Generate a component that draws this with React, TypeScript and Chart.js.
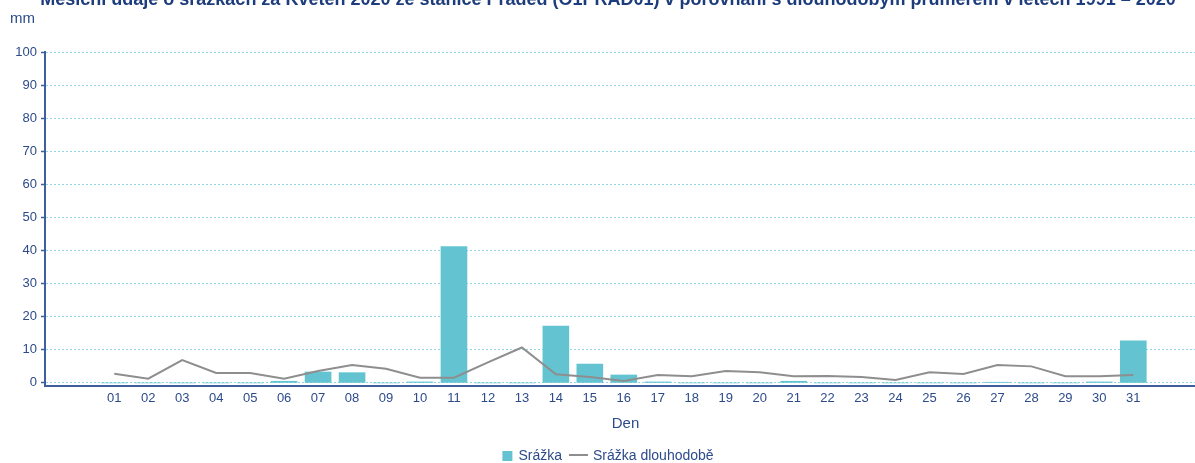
import React, { useEffect, useRef } from "react";
import { Chart, registerables } from "chart.js";

Chart.register(...registerables);

const titleText =
  "Měsíční údaje o srážkách za Květen 2020 ze stanice Praděd (O1PRAD01) v porovnání s dlouhodobým průměrem v letech 1991 – 2020";
const yUnit = "mm";
const xTitle = "Den";
const seriesNames = ["Srážka", "Srážka dlouhodobě"];

const dayLabels = [
  "01", "02", "03", "04", "05", "06", "07", "08", "09", "10",
  "11", "12", "13", "14", "15", "16", "17", "18", "19", "20",
  "21", "22", "23", "24", "25", "26", "27", "28", "29", "30", "31",
];
const dayNumbers = [
  1, 2, 3, 4, 5, 6, 7, 8, 9, 10, 11, 12, 13, 14, 15, 16, 17, 18, 19, 20, 21,
  22, 23, 24, 25, 26, 27, 28, 29, 30, 31,
];
const srazka = [
  0, 0, 0, 0, 0, 0.5, 3.3, 3.1, 0, 0.3, 41.2, 0, 0, 17.2, 5.7, 2.4, 0.3, 0, 0,
  0, 0.5, 0, 0, 0, 0, 0, 0.2, 0, 0, 0.3, 12.7,
];
const srazkaDlouhodobe = [
  2.8, 1.3, 6.9, 3.0, 3.0, 1.3, 3.6, 5.4, 4.3, 1.6, 1.6, 6.2, 10.7, 2.6, 1.8,
  0.6, 2.4, 2.0, 3.6, 3.2, 2.0, 2.1, 1.8, 0.9, 3.2, 2.7, 5.4, 5.0, 2.0, 2.0,
  2.4,
];
const yTicks = [0, 10, 20, 30, 40, 50, 60, 70, 80, 90, 100];

const FONT = '"Liberation Sans", Arial, sans-serif';
const TEXT = "#2d4b8b";
const TITLE = "#1d3c7c";
const AXIS = "#3f5e9e";
const GRID = "#93d5e4";
const BAR = "#63c3d0";
const LINE = "#8e8e8e";

const extrasPlugin = {
  id: "extras",
  afterDraw(chart: any) {
    const ctx = chart.ctx;
    ctx.save();
    ctx.fillStyle = TITLE;
    ctx.font = `bold 18px ${FONT}`;
    ctx.textAlign = "center";
    ctx.textBaseline = "alphabetic";
    ctx.fillText(titleText, 608, 5);

    ctx.fillStyle = TEXT;
    ctx.font = `15px ${FONT}`;
    ctx.textAlign = "left";
    ctx.textBaseline = "middle";
    ctx.fillText(yUnit, 10, 19);

    // legend
    ctx.font = `14px ${FONT}`;
    const w1 = ctx.measureText(seriesNames[0]).width;
    const w2 = ctx.measureText(seriesNames[1]).width;
    const total = 10 + 6 + w1 + 7 + 19 + 5 + w2;
    let x = 608 - total / 2;
    const y = 456;
    ctx.fillStyle = BAR;
    ctx.fillRect(x, y - 5, 10, 10);
    x += 16;
    ctx.fillStyle = TEXT;
    ctx.fillText(seriesNames[0], x, y);
    x += w1 + 7;
    ctx.strokeStyle = LINE;
    ctx.lineWidth = 2;
    ctx.beginPath();
    ctx.moveTo(x, y - 1);
    ctx.lineTo(x + 19, y - 1);
    ctx.stroke();
    x += 24;
    ctx.fillText(seriesNames[1], x, y);
    ctx.restore();
  },
};

export default function App() {
  const ref = useRef<HTMLCanvasElement | null>(null);

  useEffect(() => {
    if (!ref.current) return;
    const chart = new Chart(ref.current, {
      type: "bar",
      data: {
        datasets: [
          {
            type: "bar",
            label: seriesNames[0],
            data: dayNumbers.map((d, i) => ({ x: d, y: srazka[i] })),
            backgroundColor: BAR,
            barThickness: 26,
            order: 2,
          },
          {
            type: "line",
            label: seriesNames[1],
            data: dayNumbers.map((d, i) => ({ x: d, y: srazkaDlouhodobe[i] })),
            borderColor: LINE,
            borderWidth: 2,
            pointRadius: 0,
            tension: 0,
            fill: false,
            order: 1,
          },
        ],
      } as any,
      options: {
        responsive: false,
        animation: false,
        devicePixelRatio: 1,
        layout: { padding: { top: 52, left: 11.3, right: 0, bottom: 30.5 } },
        plugins: {
          legend: { display: false },
          tooltip: { enabled: false },
          title: { display: false },
        },
        scales: {
          x: {
            type: "linear",
            offset: false,
            min: -1.04,
            max: 33.14,
            afterBuildTicks: (axis: any) => {
              axis.ticks = dayNumbers.map((v) => ({ value: v }));
            },
            grid: { display: false, drawTicks: false, offset: false },
            border: { display: true, color: AXIS, width: 2 },
            ticks: {
              color: TEXT,
              font: { family: FONT, size: 13 },
              padding: 5,
              maxRotation: 0,
              autoSkip: false,
              callback: (v: any) => dayLabels[Number(v) - 1] ?? "",
            },
            title: {
              display: true,
              text: xTitle,
              color: TEXT,
              font: { family: FONT, size: 15 },
              padding: { top: 3, bottom: 0 },
            },
          },
          y: {
            type: "linear",
            min: -0.9,
            max: 100,
            afterBuildTicks: (axis: any) => {
              axis.ticks = yTicks.map((v) => ({ value: v }));
            },
            grid: {
              color: GRID,
              lineWidth: 1,
              tickLength: 4,
              tickColor: AXIS,
              tickWidth: 1.5,
              tickBorderDash: [],
            },
            border: { display: true, color: AXIS, width: 2, dash: [2, 2] },
            ticks: {
              color: TEXT,
              font: { family: FONT, size: 13 },
              padding: 4,
            },
          },
        },
      } as any,
      plugins: [extrasPlugin],
    });
    return () => chart.destroy();
  }, []);

  return (
    <div
      style={{
        position: "absolute",
        left: 0,
        top: 0,
        width: 1195,
        height: 463,
        overflow: "hidden",
        background: "#ffffff",
      }}
    >
      <canvas
        ref={ref}
        width={1206}
        height={463}
        style={{ width: 1206, height: 463, display: "block" }}
      />
    </div>
  );
}
